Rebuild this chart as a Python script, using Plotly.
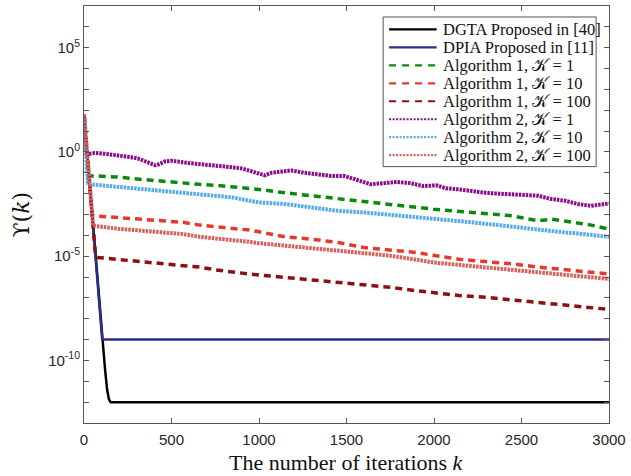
import plotly.graph_objects as go

# ---- data: residual Upsilon(k) versus iteration k ----
k_dgta = [0, 20, 40, 60, 80, 100, 108, 120, 132, 142, 152, 3000]
v_dgta = [63, 0.55, 4.4e-3, 3.6e-5, 3.0e-7, 3.2e-9, 6.3e-10, 4.0e-11, 4.0e-12, 1.4e-12, 1.0e-12, 1.0e-12]

k_dpia = [0, 20, 40, 60, 80, 104, 3000]
v_dpia = [63, 0.52, 4.1e-3, 3.3e-5, 2.6e-7, 1.0e-9, 1.0e-9]

k_a1_1 = [0, 25, 57, 120, 189, 283, 377, 472, 566, 660, 755, 849, 943, 1000, 1147, 1298,
          1449, 1600, 1751, 1902, 1996, 2105, 2218, 2332, 2445, 2558, 2596, 2671, 2785, 2898, 3000]
v_a1_1 = [63, 0.071, 0.071, 0.068, 0.063, 0.052, 0.044, 0.036, 0.032, 0.028, 0.025, 0.021, 0.018,
          0.016, 0.011, 7.9e-3, 5.5e-3, 4.3e-3, 2.9e-3, 2.2e-3, 1.8e-3, 1.5e-3, 1.3e-3, 1.05e-3,
          8.7e-4, 5.4e-4, 5.0e-4, 6.0e-4, 4.2e-4, 3.1e-4, 2.0e-4]

k_a1_10 = [0, 45, 57, 189, 283, 377, 472, 566, 660, 755, 849, 943, 1000, 1147, 1298, 1449,
           1600, 1751, 1902, 1996, 2143, 2294, 2445, 2596, 2747, 2898, 3000]
v_a1_10 = [63, 1.0e-3, 8.7e-4, 7.2e-4, 6.5e-4, 5.4e-4, 4.7e-4, 4.2e-4, 3.1e-4, 2.6e-4, 2.1e-4,
           1.8e-4, 1.48e-4, 8.5e-5, 6.6e-5, 4.6e-5, 2.6e-5, 1.95e-5, 1.5e-5, 1.1e-5, 7.2e-6,
           5.5e-6, 4.3e-6, 3.0e-6, 2.2e-6, 1.7e-6, 1.4e-6]

k_a1_100 = [0, 66, 75, 189, 283, 377, 472, 566, 660, 755, 849, 943, 1000, 1147, 1298, 1449,
            1600, 1751, 1902, 1996, 2143, 2294, 2445, 2596, 2747, 2898, 3000]
v_a1_100 = [63, 1.0e-5, 8.7e-6, 7.2e-6, 6.0e-6, 5.0e-6, 4.2e-6, 3.5e-6, 3.0e-6, 2.2e-6, 1.7e-6,
            1.4e-6, 1.26e-6, 9.8e-7, 7.2e-7, 5.6e-7, 4.4e-7, 3.2e-7, 2.2e-7, 1.8e-7, 1.3e-7,
            1.07e-7, 7.9e-8, 6.2e-8, 4.6e-8, 3.5e-8, 2.8e-8]

k_a2_1 = [0, 12, 19, 60, 113, 150, 189, 240, 283, 320, 358, 390, 406, 430, 462, 500, 528, 566,
          604, 679, 755, 830, 906, 981, 1034, 1071, 1147, 1185, 1260, 1336, 1411, 1487, 1562,
          1638, 1713, 1789, 1864, 1940, 2015, 2067, 2143, 2218, 2294, 2369, 2445, 2520, 2596,
          2671, 2747, 2822, 2898, 3000]
v_a2_1 = [63, 0.89, 0.78, 0.89, 0.83, 0.76, 0.65, 0.60, 0.54, 0.45, 0.34, 0.26, 0.23, 0.26,
          0.35, 0.38, 0.37, 0.32, 0.29, 0.26, 0.21, 0.19, 0.16, 0.10, 0.075, 0.10, 0.12, 0.13,
          0.10, 0.085, 0.071, 0.071, 0.044, 0.028, 0.032, 0.036, 0.032, 0.023, 0.025, 0.018,
          0.016, 0.013, 0.011, 0.010, 9.3e-3, 8.5e-3, 7.9e-3, 5.5e-3, 4.6e-3, 3.2e-3, 2.6e-3,
          3.4e-3]

k_a2_10 = [0, 22, 38, 151, 283, 377, 472, 566, 660, 755, 849, 943, 1000, 1147, 1298, 1449,
           1600, 1751, 1902, 1996, 2105, 2218, 2369, 2483, 2596, 2709, 2822, 3000]
v_a2_10 = [63, 0.032, 0.028, 0.023, 0.019, 0.015, 0.013, 0.011, 9.3e-3, 7.9e-3, 6.6e-3,
           4.6e-3, 3.8e-3, 3.2e-3, 2.2e-3, 1.5e-3, 1.26e-3, 9.8e-4, 7.2e-4, 6.0e-4, 5.4e-4,
           4.2e-4, 3.1e-4, 2.4e-4, 1.8e-4, 1.48e-4, 1.23e-4, 8.5e-5]

k_a2_100 = [0, 52, 189, 283, 377, 472, 566, 660, 755, 849, 943, 1000, 1147, 1298, 1449, 1600,
            1751, 1902, 1940, 1996, 2143, 2294, 2445, 2596, 2747, 2898, 3000]
v_a2_100 = [63, 2.9e-4, 2.1e-4, 1.8e-4, 1.55e-4, 1.38e-4, 1.15e-4, 8.5e-5, 7.4e-5, 5.9e-5,
            4.9e-5, 4.2e-5, 3.2e-5, 2.5e-5, 1.8e-5, 1.4e-5, 1.05e-5, 7.2e-6, 6.0e-6, 5.0e-6,
            3.8e-6, 3.0e-6, 2.2e-6, 1.7e-6, 1.3e-6, 9.8e-7, 8.1e-7]

x_ticks = [0, 500, 1000, 1500, 2000, 2500, 3000]
y_major = [1e-10, 1e-5, 1e0, 1e5]
y_major_text = ["10<sup>-10</sup>", "10<sup>-5</sup>", "10<sup>0</sup>", "10<sup>5</sup>"]
y_minor = [1e-13, 1e-12, 1e-11, 1e-9, 1e-8, 1e-7, 1e-6, 1e-4, 1e-3, 1e-2, 1e-1,
           1e1, 1e2, 1e3, 1e4, 1e6, 1e7]

KAL = "\U0001D4A6"  # script capital K

series = [
    ("DGTA Proposed in [40]", k_dgta, v_dgta, "#000000", "solid", 2.5),
    ("DPIA Proposed in [11]", k_dpia, v_dpia, "#2b2d8c", "solid", 2.5),
    (f"Algorithm 1, {KAL} = 1", k_a1_1, v_a1_1, "#0a8a0a", "7px,5px", 3.5),
    (f"Algorithm 1, {KAL} = 10", k_a1_10, v_a1_10, "#e8382c", "7px,5px", 3.5),
    (f"Algorithm 1, {KAL} = 100", k_a1_100, v_a1_100, "#8c1010", "7px,5px", 3.5),
    (f"Algorithm 2, {KAL} = 1", k_a2_1, v_a2_1, "#8c0a8c", "2.5px,1px", 4),
    (f"Algorithm 2, {KAL} = 10", k_a2_10, v_a2_10, "#55aaee", "2.5px,1px", 4),
    (f"Algorithm 2, {KAL} = 100", k_a2_100, v_a2_100, "#d8605c", "2.5px,1px", 4),
]

# figure geometry (pixels)
W, H = 631, 476
ML, MR, MT, MB = 84, 17, 5, 53
PW, PH = W - ML - MR, H - MT - MB


def px_x(px):
    return (px - ML) / PW


def px_y(py):
    return 1 - (py - MT) / PH


fig = go.Figure()
for name, kk, vv, color, dash, w in series:
    fig.add_trace(go.Scatter(x=kk, y=vv, mode="lines", name=name, showlegend=False,
                             line=dict(color=color, dash=dash, width=w)))

# boxed legend in the upper right corner
legend_shapes = [dict(type="rect", xref="paper", yref="paper", layer="above",
                      x0=px_x(386), x1=px_x(601), y0=px_y(16), y1=px_y(166),
                      line=dict(color="#555555", width=1), fillcolor="white")]
legend_texts = []
row0, row_gap = 28.5, 18
legend_dash = {"solid": "solid", "7px,5px": "7px,6px", "2.5px,1px": "2px,1.5px"}
for i, (name, _, _, color, dash, _) in enumerate(series):
    yc = px_y(row0 + i * row_gap)
    legend_shapes.append(dict(type="line", xref="paper", yref="paper", layer="above",
                              x0=px_x(392), x1=px_x(440), y0=yc, y1=yc,
                              line=dict(color=color, width=2.2, dash=legend_dash[dash])))
    legend_texts.append(dict(text=name, xref="paper", yref="paper", x=px_x(444), y=yc,
                             xanchor="left", yanchor="middle", showarrow=False,
                             font=dict(family="Liberation Serif", size=16.5, color="#111111")))

axis_color = "#555555"
fig.update_layout(
    width=W, height=H,
    margin=dict(l=ML, r=MR, t=MT, b=MB),
    paper_bgcolor="white", plot_bgcolor="white",
    showlegend=False,
    xaxis=dict(
        range=[0, 3000], tickmode="array", tickvals=x_ticks,
        ticks="inside", ticklen=5, tickcolor=axis_color,
        showline=True, linecolor=axis_color, linewidth=1, mirror="ticks",
        showgrid=False, zeroline=False, ticklabelstandoff=3,
        tickfont=dict(family="Liberation Sans", size=15, color="#262626"),
    ),
    yaxis=dict(
        type="log", range=[-13, 7], tickmode="array",
        tickvals=y_major, ticktext=y_major_text,
        ticks="inside", ticklen=5, tickcolor=axis_color,
        minor=dict(tickmode="array", tickvals=y_minor, ticks="inside", ticklen=5,
                   tickcolor=axis_color, showgrid=False),
        showline=True, linecolor=axis_color, linewidth=1, mirror="ticks",
        showgrid=False, zeroline=False,
        tickfont=dict(family="Liberation Sans", size=15, color="#262626"),
    ),
    shapes=legend_shapes,
    annotations=legend_texts + [
        dict(text="The number of iterations <i>k</i>", xref="paper", yref="paper",
             x=0.5, y=0, yshift=-39.5, xanchor="center", yanchor="middle", showarrow=False,
             font=dict(family="Liberation Serif", size=22, color="#111111")),
        dict(text="\u03d2(<i>k</i>)", xref="paper", yref="paper",
             x=0, y=0.5, xshift=-63, xanchor="center", yanchor="middle",
             textangle=-90, showarrow=False,
             font=dict(family="DejaVu Serif", size=22, color="#111111")),
    ],
)

fig.write_html("out.html")
